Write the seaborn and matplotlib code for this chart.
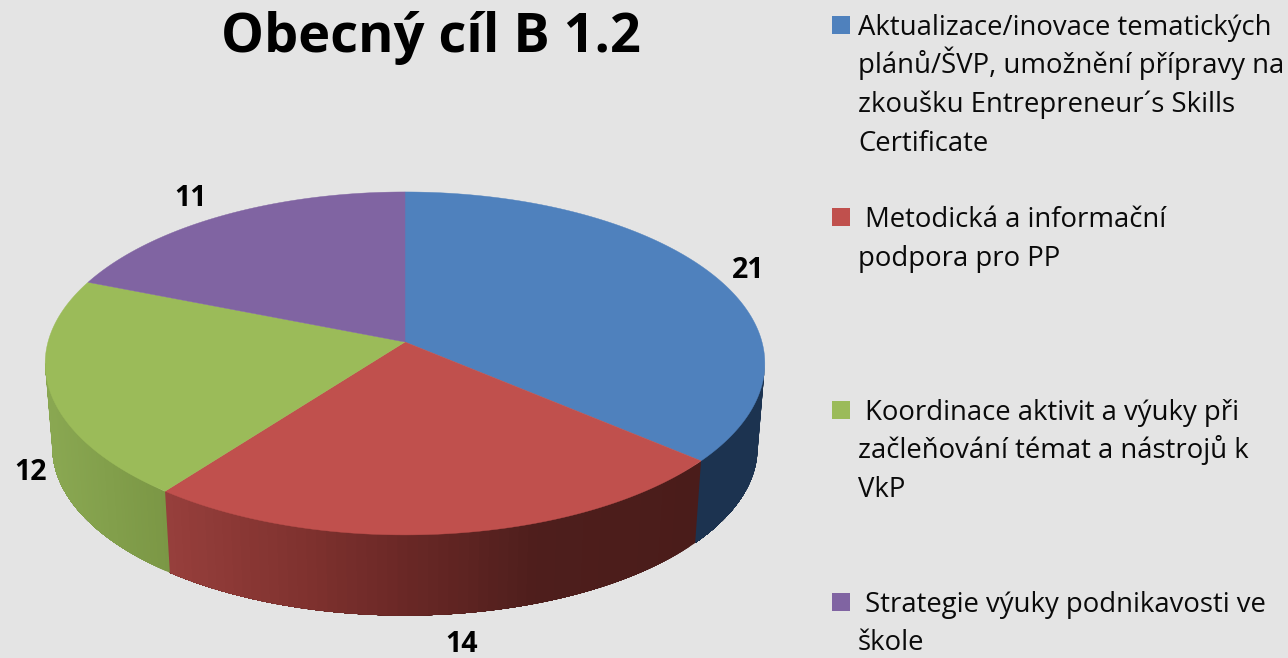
import numpy as np
import matplotlib
matplotlib.use("Agg")
import matplotlib.pyplot as plt
import seaborn as sns

TITLE = "Obecný cíl B 1.2"
CATEGORIES = ["Aktualizace/inovace tematických plánů/ŠVP",
              "Metodická a informační podpora pro PP",
              "Koordinace aktivit a výuky",
              "Strategie výuky podnikavosti ve škole"]
VALUES = [21, 14, 12, 11]
TOP_COLORS = ["#4f81bd", "#c0504d", "#9bbb59", "#8064a2"]
LEGEND_LINES = [
    ["Aktualizace/inovace tematických", "plánů/ŠVP, umožnění přípravy na",
     "zkoušku Entrepreneur´s Skills", "Certificate"],
    ["\u00a0Metodická a informační", "podpora pro PP"],
    ["\u00a0Koordinace aktivit a výuky při", "začleňování témat a nástrojů k", "VkP"],
    ["\u00a0Strategie výuky podnikavosti ve", "škole"],
]
LEGEND_BASELINES = [[35, 73, 112, 151], [227, 266], [420, 458, 497], [612, 650]]
LABEL_POS = [(748, 271), (462, 645), (31, 472), (191, 199)]
# side shading: (x pixel, rgb) stops per slice
SIDE_STOPS = [
    [(0, "#1c3350"), (1288, "#1c3350")],
    [(165, "#973f3c"), (300, "#80322f"), (405, "#6a2826"), (540, "#4e1e1c"), (700, "#4a1c1a")],
    [(45, "#8aa852"), (165, "#7b9745")],
    [(0, "#5f4a7a"), (1288, "#5f4a7a")],
]

BG = "#e4e4e4"
CX, CY, A, H, P = 405.0, 342.0, 357.0, 168.8, 0.125
DEPTH, BOTTOM_SCALE = 84.5, 0.98

sns.set_theme(style="white", rc={"figure.facecolor": BG, "axes.facecolor": BG})
plt.rcParams["font.family"] = ["Open Sans", "DejaVu Sans"]
palette = sns.color_palette(TOP_COLORS)


def project(theta, scale=1.0, drop=0.0):
    u, v = np.sin(theta), np.cos(theta)
    w = 1 + P * v
    return CX + scale * A * u / w, CY + drop - scale * H * v / w


fig = plt.figure(figsize=(12.88, 6.58), dpi=100, facecolor=BG)
ax = fig.add_axes([0, 0, 1, 1])
ax.set_xlim(0, 1288)
ax.set_ylim(658, 0)
ax.axis("off")

edges = np.concatenate([[0], np.cumsum(VALUES)]) / np.sum(VALUES) * 2 * np.pi

# extreme points of the rim: only the part in front of them shows a side wall
grid = np.linspace(0, 2 * np.pi, 1441)
gx, _ = project(grid)
th_right, th_left = grid[np.argmax(gx)], grid[np.argmin(gx)]

for i in range(len(VALUES)):
    lo, hi = max(edges[i], th_right), min(edges[i + 1], th_left)
    if hi <= lo:
        continue
    stops = SIDE_STOPS[i]
    sx = [s[0] for s in stops]
    sc = np.array([matplotlib.colors.to_rgb(s[1]) for s in stops])
    th = np.linspace(lo, hi, 61)
    # strips run from the far end of the slice so each one covers its neighbour's seam
    for t0, t1 in zip(th[:-1], th[1:]):
        arc = np.linspace(t0, hi, 40)
        xt, yt = project(arc)
        xb, yb = project(arc, BOTTOM_SCALE, DEPTH)
        xm = project((t0 + t1) / 2)[0]
        col = [np.interp(xm, sx, sc[:, k]) for k in range(3)]
        ax.fill(np.r_[xt, xb[::-1]], np.r_[yt, yb[::-1]], color=col, lw=0, zorder=2)

for i, col in enumerate(palette):
    th = np.linspace(edges[i], edges[i + 1], 300)
    x, y = project(th)
    ax.fill(np.r_[CX, x], np.r_[CY, y], color=col, lw=0.3, zorder=3)

for val, (x, y) in zip(VALUES, LABEL_POS):
    ax.text(x, y, str(val), ha="center", va="center", fontsize=20.5, fontweight="bold", color="black", zorder=5)

ax.text(431, 52, TITLE, ha="center", va="baseline", fontsize=39, fontweight="bold", color="black")

for col, lines, bases in zip(palette, LEGEND_LINES, LEGEND_BASELINES):
    ax.scatter([841], [bases[0] - 10], marker="s", s=170, color=col, linewidths=0, zorder=4)
    for line, b in zip(lines, bases):
        ax.text(858, b, line, ha="left", va="baseline", fontsize=19.8, color="#0a0a0a")

fig.savefig("out.png", dpi=100, facecolor=BG)
